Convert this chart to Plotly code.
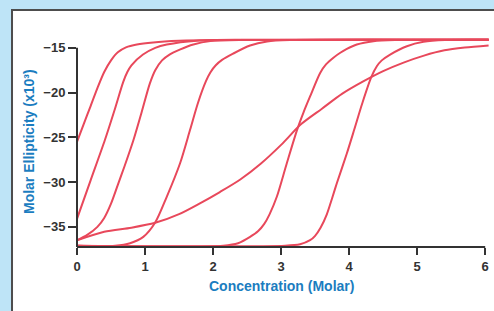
import plotly.graph_objects as go

# ---- data ----
a_x = [0, 0.1, 0.2, 0.3, 0.4, 0.5, 0.6, 0.72, 0.88, 1.12, 1.5, 2.0, 6.05]
a_y = [-25.5, -23.5, -21.5, -19.5, -17.7, -16.4, -15.5, -14.95, -14.63, -14.4, -14.22, -14.13, -14.1]

b_x = [0, 0.2, 0.41, 0.55, 0.68, 0.74, 0.8, 0.97, 1.15, 1.32, 1.76, 2.5, 6.05]
b_y = [-34.1, -29.8, -25.3, -22.0, -18.8, -17.7, -16.95, -15.75, -15.0, -14.63, -14.2, -14.1, -14.1]

c_x = [0, 0.15, 0.3, 0.4, 0.5, 0.6, 0.7, 0.83, 0.95, 1.07, 1.15, 1.25, 1.36, 1.51, 1.71, 1.96, 2.5, 6.05]
c_y = [-36.5, -35.9, -35.0, -34.0, -32.4, -30.3, -28.2, -25.3, -22.2, -19.0, -17.5, -16.4, -15.75,
       -15.2, -14.63, -14.25, -14.12, -14.1]

d_x = [0, 0.4, 0.8, 1.15, 1.5, 1.8, 2.1, 2.4, 2.7, 3.0, 3.3, 3.6, 3.9, 4.2, 4.5, 4.8, 5.1, 5.4, 5.7, 6.05]
d_y = [-36.49, -35.54, -35.09, -34.55, -33.58, -32.40, -31.11, -29.71, -27.95, -25.84, -23.49, -21.80,
       -20.12, -18.78, -17.60, -16.65, -15.87, -15.28, -14.97, -14.74]

e_x = [0, 0.56, 0.78, 0.975, 1.147, 1.319, 1.515, 1.662, 1.779, 1.897, 1.96, 2.04, 2.132, 2.294,
       2.544, 2.794, 3.13, 6.05]
e_y = [-37.1, -37.1, -36.83, -36.12, -34.55, -31.64, -27.89, -24.16, -21.13, -18.7, -17.75, -16.95,
       -16.35, -15.65, -14.74, -14.29, -14.13, -14.1]

f_x = [0, 2.15, 2.368, 2.544, 2.66, 2.75, 2.83, 2.937, 3.084, 3.235, 3.33, 3.426, 3.574, 3.66, 3.769,
       3.87, 3.96, 4.113, 4.357, 4.676, 6.05]
f_y = [-37.1, -37.1, -36.83, -36.12, -35.5, -34.7, -33.6, -31.64, -27.89, -24.16, -22.2, -20.43, -17.8,
       -16.85, -16.1, -15.55, -15.15, -14.63, -14.26, -14.13, -14.1]

g_x = [0, 3.06, 3.279, 3.426, 3.5, 3.58, 3.672, 3.75, 3.819, 3.966, 4.074, 4.191, 4.324, 4.407, 4.48,
       4.603, 4.849, 5.093, 5.412, 6.05]
g_y = [-37.1, -37.1, -36.94, -36.49, -36.0, -35.1, -33.6, -31.8, -30.13, -26.8, -24.16, -21.24, -18.30,
       -17.06, -16.4, -15.75, -14.82, -14.33, -14.13, -14.1]

x_ticks = [0, 1, 2, 3, 4, 5, 6]
y_ticks = [-35, -30, -25, -20, -15]
x_title = "Concentration (Molar)"
y_title = "Molar Ellipticity (x10³)"

# ---- style ----
RED = "#e8485b"
BLUE = "#1b7dc0"
AX = "#333333"
X_RANGE = [0, 6.1]
Y_RANGE = [-37.25, -13.9]

fig = go.Figure()
for xs, ys in [(a_x, a_y), (b_x, b_y), (c_x, c_y), (d_x, d_y), (e_x, e_y), (f_x, f_y), (g_x, g_y)]:
    fig.add_trace(go.Scatter(x=xs, y=ys, mode="lines",
                             line=dict(color=RED, width=2, shape="spline", smoothing=0.8),
                             hoverinfo="skip", showlegend=False))

def px_(v):
    return (v - X_RANGE[0]) / (X_RANGE[1] - X_RANGE[0])

def py_(v):
    return (v - Y_RANGE[0]) / (Y_RANGE[1] - Y_RANGE[0])

shapes = [
    # white panel with dark border on light-blue page
    dict(type="rect", xref="paper", yref="paper", x0=-0.1566, x1=1.2, y0=-0.4, y1=1.134,
         line=dict(color="#4d4d4d", width=2), fillcolor="white", layer="below"),
    # axis lines
    dict(type="line", xref="paper", yref="paper", x0=px_(x_ticks[0]), x1=px_(x_ticks[-1]), y0=0, y1=0,
         line=dict(color=AX, width=2)),
    dict(type="line", xref="paper", yref="paper", x0=0, x1=0, y0=0, y1=py_(max(y_ticks)),
         line=dict(color=AX, width=2)),
]

tickfont = dict(family="Liberation Sans, Arial, sans-serif", size=13, color=AX, weight="bold")
titlefont = dict(family="Liberation Sans, Arial, sans-serif", size=14, color=BLUE, weight="bold")

fig.update_layout(
    width=494, height=311,
    margin=dict(l=77, r=2, t=38, b=64),
    paper_bgcolor="#bee4f7",
    plot_bgcolor="rgba(0,0,0,0)",
    shapes=shapes,
    xaxis=dict(range=X_RANGE, tickvals=x_ticks, ticks="outside", ticklen=7, tickwidth=2,
               tickcolor=AX, showgrid=False, zeroline=False, showline=False, tickfont=tickfont,
               automargin=False),
    yaxis=dict(range=Y_RANGE, tickvals=y_ticks, ticks="outside", ticklen=8, tickwidth=2,
               tickcolor=AX, showgrid=False, zeroline=False, showline=False, tickfont=tickfont,
               automargin=False),
    annotations=[
        dict(text=x_title, xref="paper", yref="paper", x=0.4928, y=-0.1866,
             xanchor="center", yanchor="middle", showarrow=False, font=titlefont),
        dict(text=y_title, xref="paper", yref="paper", x=-0.1157, y=0.507, textangle=-90,
             xanchor="center", yanchor="middle", showarrow=False, font=titlefont),
    ],
)

fig.write_html("out.html", config={"displayModeBar": False},
               post_script="document.body.style.margin='0px';")
